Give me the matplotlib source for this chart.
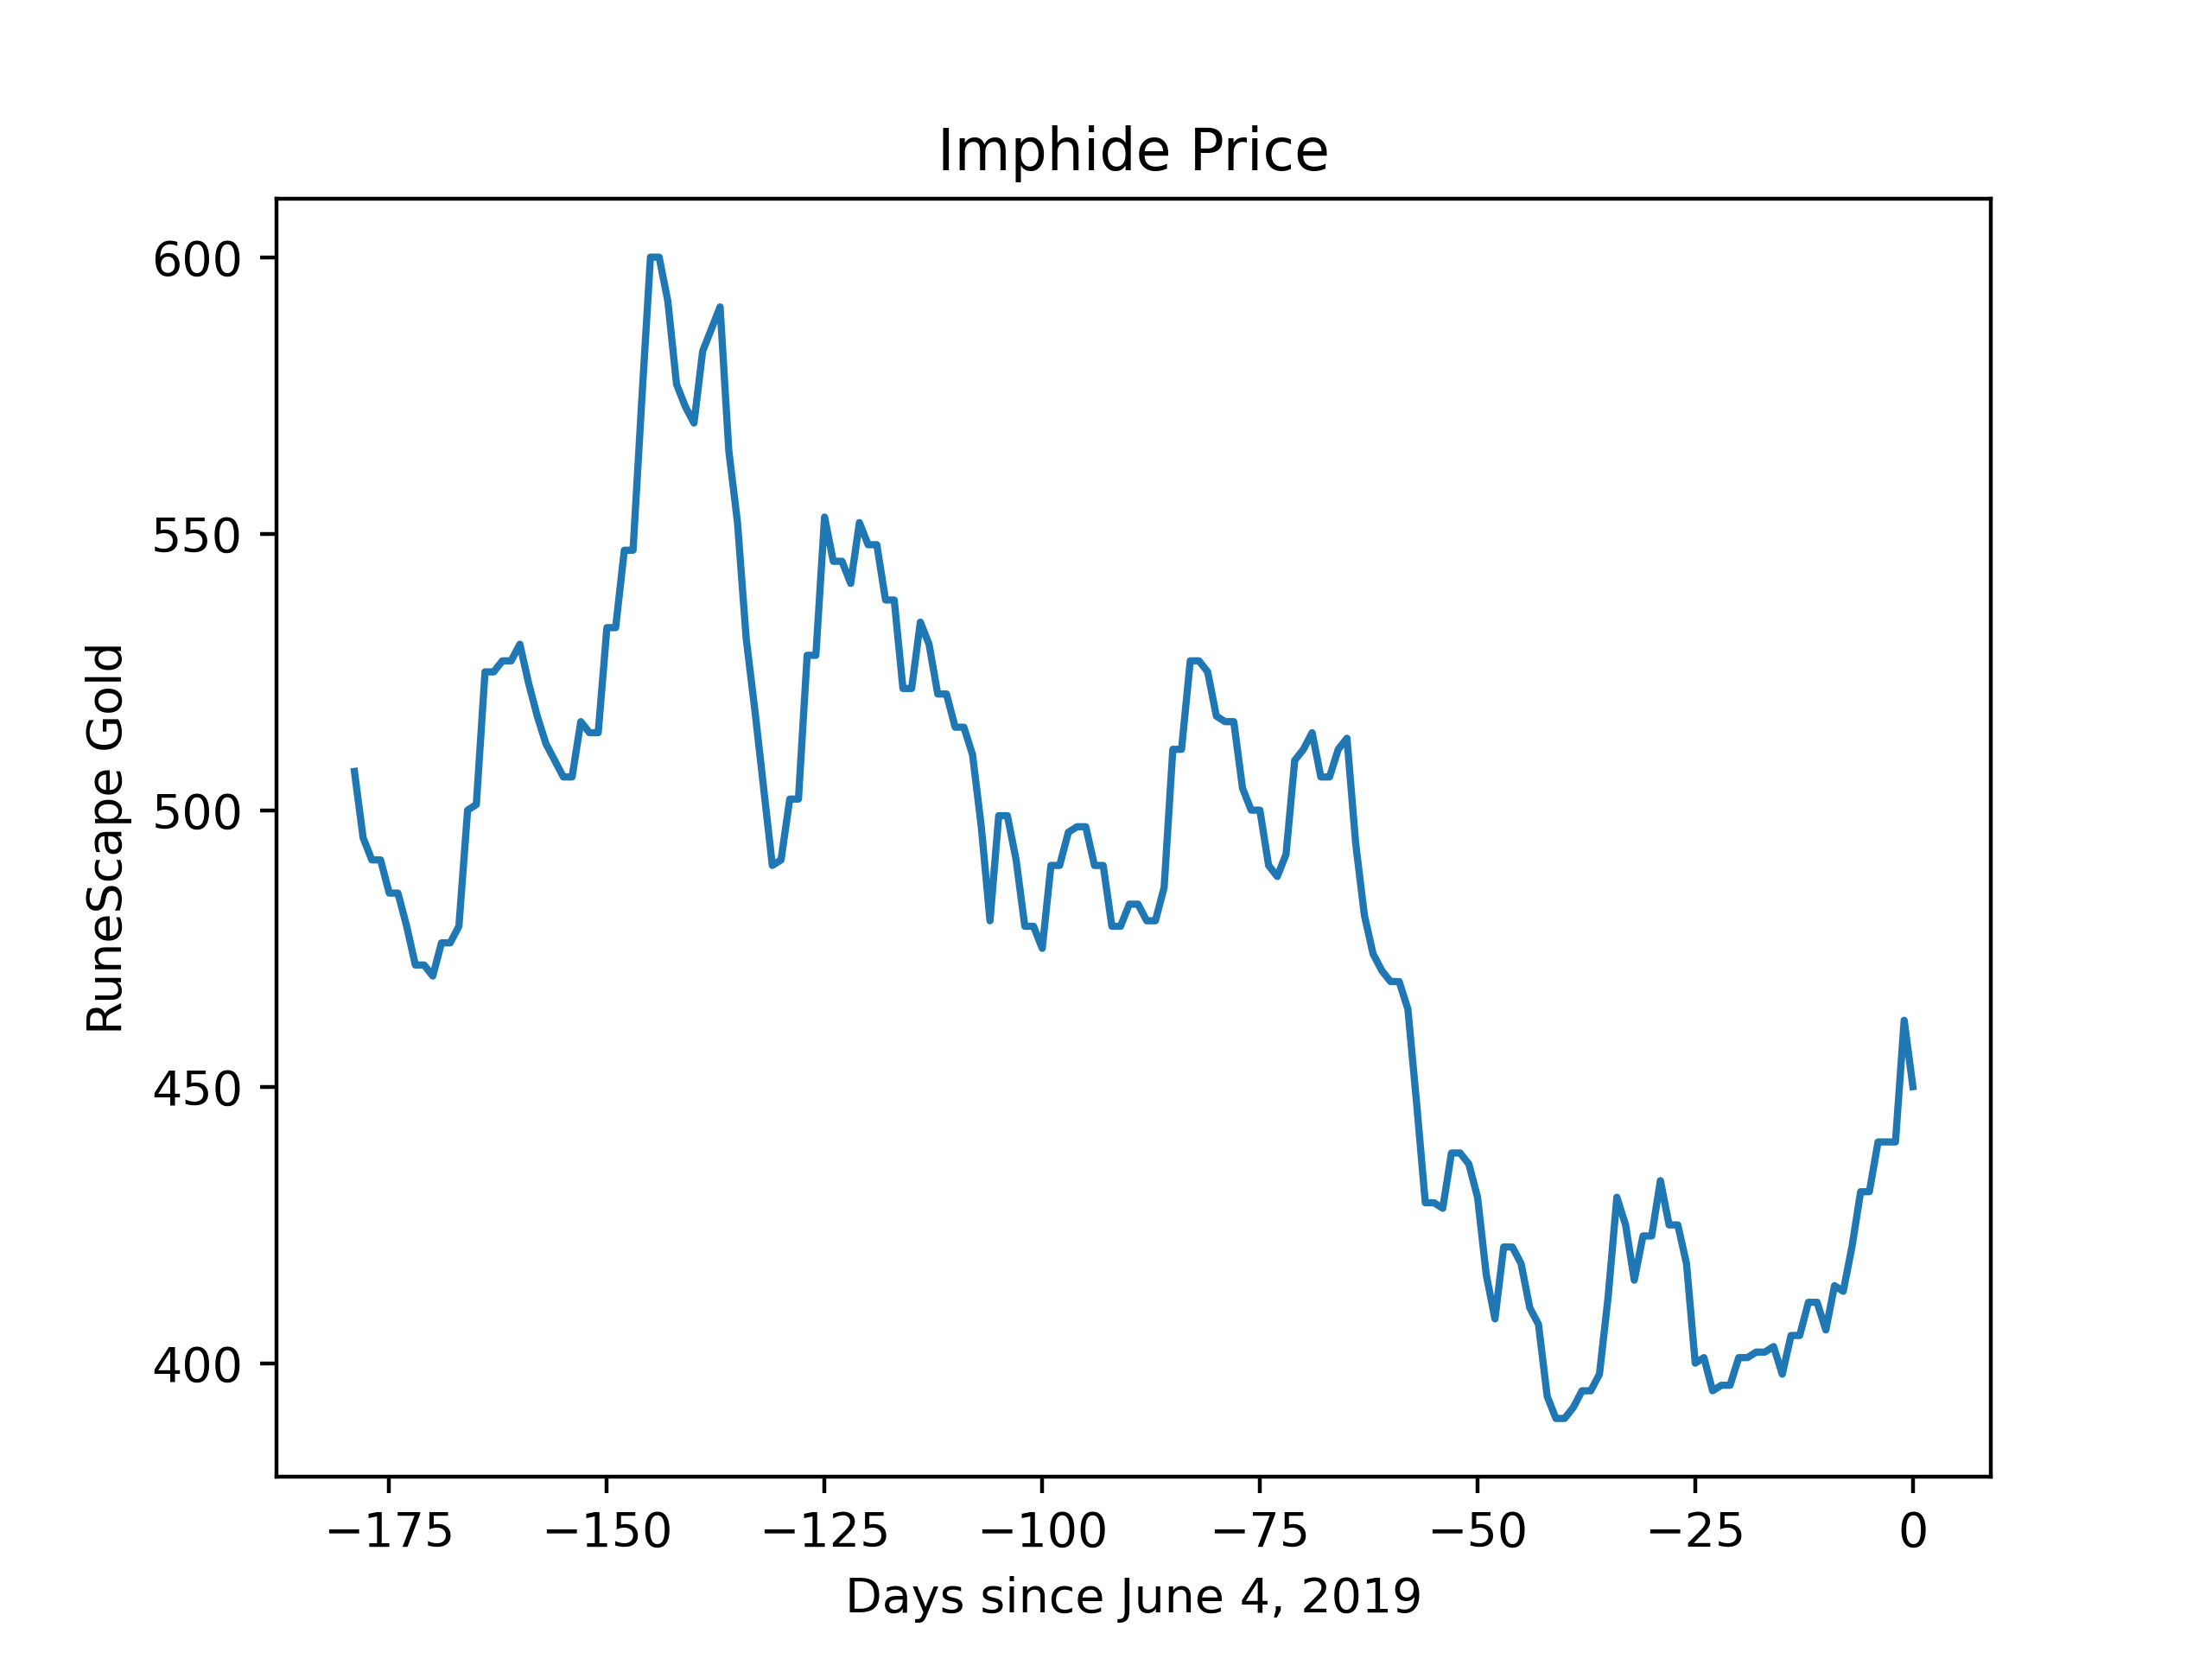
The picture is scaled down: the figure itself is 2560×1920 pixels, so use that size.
import numpy as np
import matplotlib
matplotlib.use("Agg")
import matplotlib.pyplot as plt

# daily prices, day -179 .. 0
prices = [
    507, 495, 491, 491, 485, 485, 479, 472, 472, 470,
    476, 476, 479, 500, 501, 525, 525, 527, 527, 530,
    523, 517, 512, 509, 506, 506, 516, 514, 514, 533,
    533, 547, 547, 574, 600, 600, 592, 577, 573, 570,
    583, 587, 591, 565, 552, 531, 518, 504, 490, 491,
    502, 502, 528, 528, 553, 545, 545, 541, 552, 548,
    548, 538, 538, 522, 522, 534, 530, 521, 521, 515,
    515, 510, 497, 480, 499, 499, 491, 479, 479, 475,
    490, 490, 496, 497, 497, 490, 490, 479, 479, 483,
    483, 480, 480, 486, 511, 511, 527, 527, 525, 517,
    516, 516, 504, 500, 500, 490, 488, 492, 509, 511,
    514, 506, 506, 511, 513, 494, 481, 474, 471, 469,
    469, 464, 447, 429, 429, 428, 438, 438, 436, 430,
    416, 408, 421, 421, 418, 410, 407, 394, 390, 390,
    392, 395, 395, 398, 412, 430, 425, 415, 423, 423,
    433, 425, 425, 418, 400, 401, 395, 396, 396, 401,
    401, 402, 402, 403, 398, 405, 405, 411, 411, 406,
    414, 413, 421, 431, 431, 440, 440, 440, 462, 450,
]
days = np.arange(-len(prices) + 1, 1)

fig, ax = plt.subplots(figsize=(6.4, 4.8), dpi=400)
ax.plot(days, prices)
ax.set_title("Imphide Price")
ax.set_xlabel("Days since June 4, 2019")
ax.set_ylabel("RuneScape Gold")
fig.savefig("out.png", dpi=400)
